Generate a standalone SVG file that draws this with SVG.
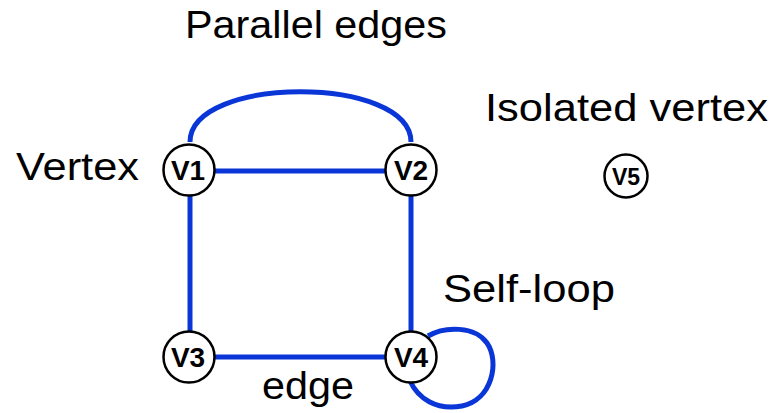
<svg xmlns="http://www.w3.org/2000/svg" width="775" height="413" viewBox="0 0 775 413">
<style>
.lbl{font-family:"Liberation Sans",Arial,sans-serif;font-size:38px;fill:#000}
.edge{fill:none;stroke:#0a36d8;stroke-width:5;stroke-linecap:butt}
.node circle{fill:#fff;stroke:#000;stroke-width:2.5}
.node text{font-family:"Liberation Sans",Arial,sans-serif;font-weight:bold;font-size:28px;fill:#000;text-anchor:middle}
</style>
<rect width="775" height="413" fill="#fff"/>
<g id="labels">
<text class="lbl" x="185" y="38" textLength="262" lengthAdjust="spacingAndGlyphs">Parallel edges</text>
<text class="lbl" x="485" y="121" textLength="283" lengthAdjust="spacingAndGlyphs">Isolated vertex</text>
<text class="lbl" x="16" y="180" textLength="123" lengthAdjust="spacingAndGlyphs">Vertex</text>
<text class="lbl" x="443" y="302" textLength="172" lengthAdjust="spacingAndGlyphs">Self-loop</text>
<text class="lbl" x="262" y="399" textLength="92" lengthAdjust="spacingAndGlyphs">edge</text>
</g>
<g id="connectors">
<path class="edge" d="M190,142 C190,75 411,75 411,142"/>
<line class="edge" x1="214" y1="171" x2="386" y2="171"/>
<line class="edge" x1="190" y1="195" x2="190" y2="332"/>
<line class="edge" x1="411" y1="195" x2="411" y2="332"/>
<line class="edge" x1="214" y1="357" x2="386" y2="357"/>
<path class="edge" d="M428,336 C445,326 475,326 487,343 C500,362 492,400 462,406 C436,411 418,398 410,381"/>
</g>
<g id="V1" class="node"><circle cx="189" cy="170" r="25.5"/><text x="188" y="180">V1</text></g>
<g id="V2" class="node"><circle cx="411" cy="170" r="25.5"/><text x="411" y="180">V2</text></g>
<g id="V3" class="node"><circle cx="189" cy="357" r="25.5"/><text x="188" y="367">V3</text></g>
<g id="V4" class="node"><circle cx="411" cy="357" r="25.5"/><text x="411" y="367">V4</text></g>
<g id="V5" class="node"><circle cx="626" cy="176" r="21.5"/><text x="626" y="184.5" style="font-size:23px">V5</text></g>
</svg>
